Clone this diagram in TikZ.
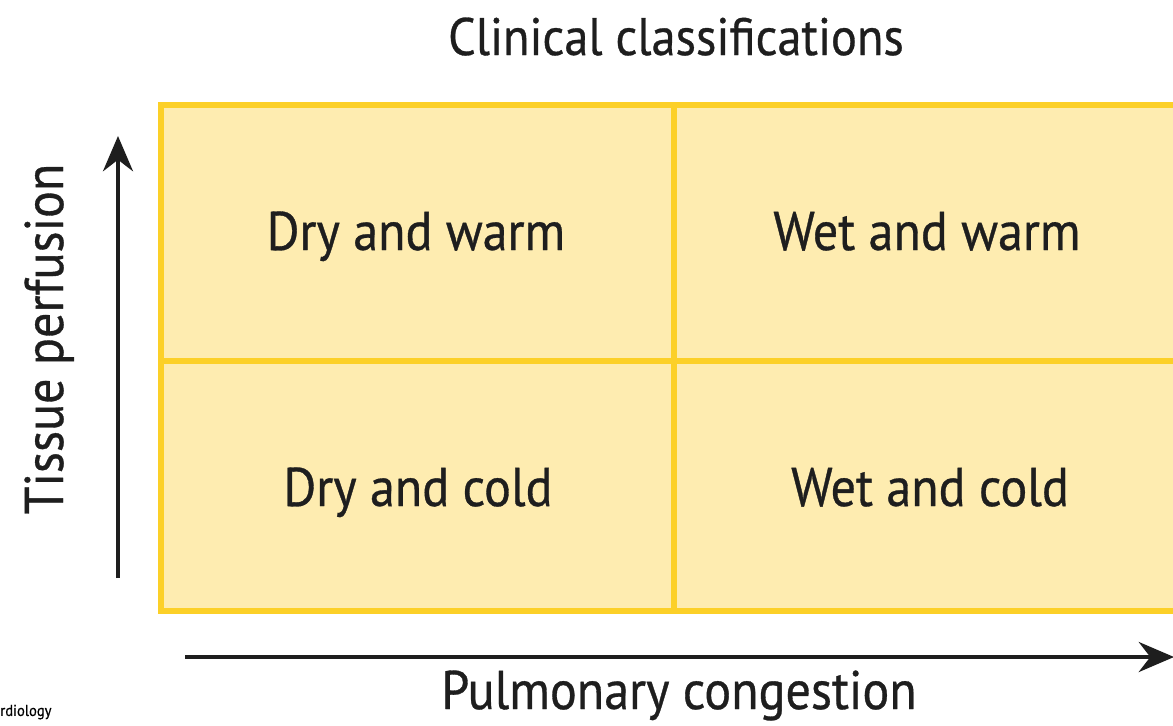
\documentclass[tikz,border=0pt]{standalone}
\usepackage{fontspec}
\setmainfont{PT Sans}[FakeStretch=0.92,FakeBold=0.6]
\usepackage{tikz}
\usetikzlibrary{arrows.meta,positioning}
\definecolor{cFill}{RGB}{254,236,176}
\definecolor{cEdge}{RGB}{252,208,40}
\definecolor{cInk}{RGB}{30,30,30}
\tikzset{
  cellbox/.style={rectangle,draw=cEdge,fill=cFill,line width=3.4pt},
  celltext/.style={font=\fontsize{31}{37}\selectfont,text=cInk,anchor=base},
  axistext/.style={font=\fontsize{31}{37}\selectfont,text=cInk,anchor=base},
  axisarr/.style={-{Stealth[length=20pt,width=17pt]},line width=2.8pt,color=cInk}
}
\begin{document}
\begin{tikzpicture}[x=0.02cm,y=-0.02cm]
  \useasboundingbox (0,0) rectangle (1173,725);
  \clip (0,0) rectangle (1173,725);
  % quadrant grid
  \draw[cellbox] (161,105) rectangle (1190,611);
  \draw[cellbox] (674,105) -- (674,611);
  \draw[cellbox] (161,361) -- (1190,361);
  \node[celltext] (drywarm) at (416,250) {Dry and warm};
  \node[celltext] (wetwarm) at (927,250) {Wet and warm};
  \node[celltext] (drycold) at (418,506) {Dry and cold};
  \node[celltext] (wetcold) at (930,506) {Wet and cold};
  % title and axes
  \node[axistext,font=\fontsize{30}{36}\selectfont] (title) at (676,55) {Clinical classifications};
  \coordinate (ybot) at (118,578);
  \coordinate (ytop) at (118,136);
  \coordinate (xleft) at (185,657);
  \coordinate (xright) at (1174,657);
  \draw[axisarr] (ybot) -- (ytop);
  \draw[axisarr] (xleft) -- (xright);
  \node[axistext,rotate=90] (perf) at (63,339) {Tissue perfusion};
  \node[axistext] (congest) at (679,709) {Pulmonary congestion};
  \node[font=\fontsize{9}{10}\selectfont,anchor=west,inner sep=0pt] (credit) at (0,712) {rdiology};
\end{tikzpicture}
\end{document}
